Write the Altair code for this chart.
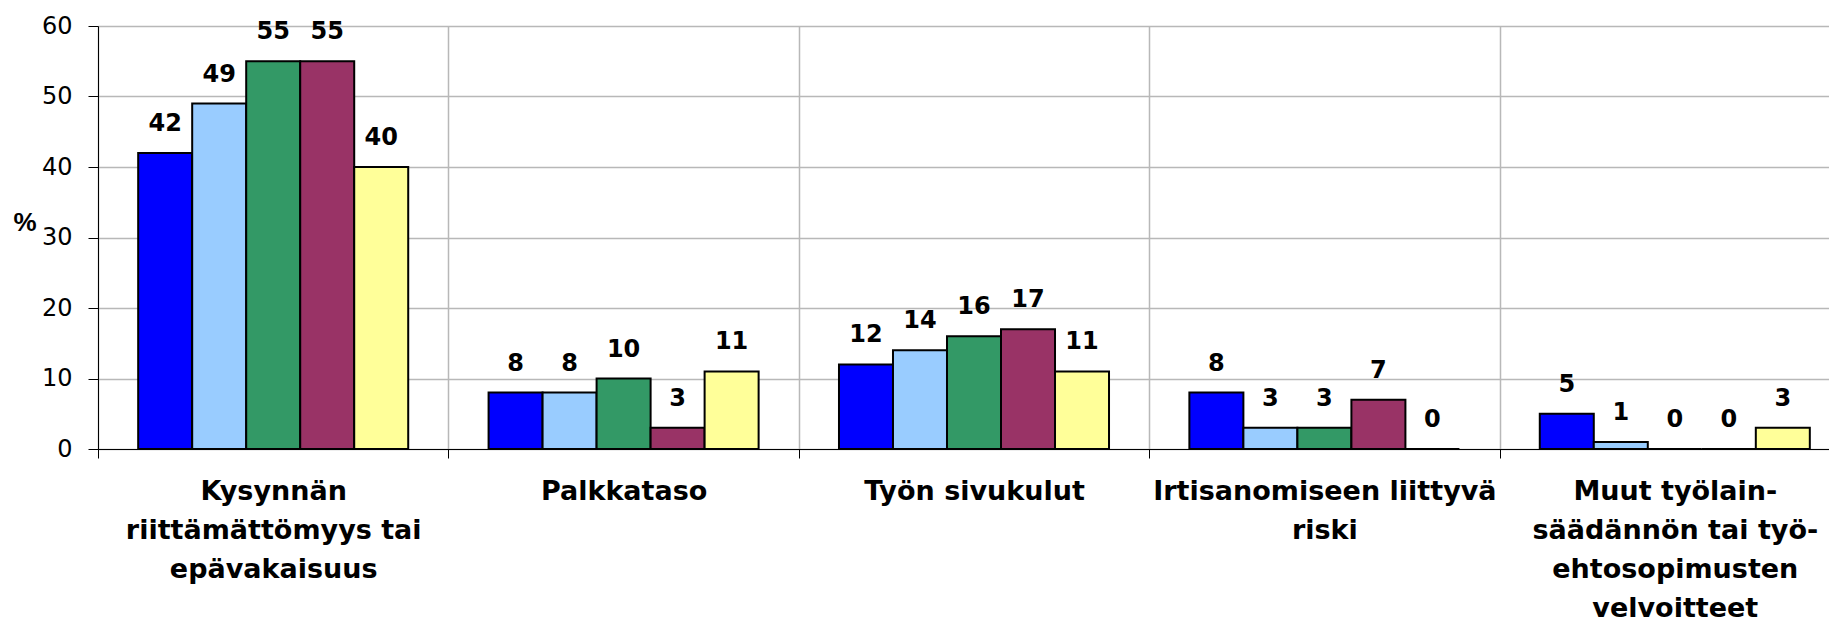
import altair as alt
import pandas as pd

categories = [
    "Kysynnän|riittämättömyys tai|epävakaisuus",
    "Palkkataso",
    "Työn sivukulut",
    "Irtisanomiseen liittyvä|riski",
    "Muut työlain-|säädännön tai työ-|ehtosopimusten|velvoitteet",
]
series = ["Sarja 1", "Sarja 2", "Sarja 3", "Sarja 4", "Sarja 5"]
colors = ["#0000FF", "#99CCFF", "#339966", "#993366", "#FFFF99"]

s1 = [42, 8, 12, 8, 5]
s2 = [49, 8, 14, 3, 1]
s3 = [55, 10, 16, 3, 0]
s4 = [55, 3, 17, 7, 0]
s5 = [40, 11, 11, 0, 3]
y_ticks = [0, 10, 20, 30, 40, 50, 60]

rows = []
for name, vals in zip(series, [s1, s2, s3, s4, s5]):
    for c, v in zip(categories, vals):
        rows.append({"category": c, "series": name, "value": v})
df = pd.DataFrame(rows)

grid_color = "#b8b8b8"

x = alt.X(
    "category:N",
    sort=categories,
    scale=alt.Scale(paddingInner=0, paddingOuter=0, range=[0, 1752]),
    axis=alt.Axis(
        title=None,
        labelAngle=0,
        labelExpr="split(datum.label, '|')",
        labelFont="DejaVu Sans",
        labelFontSize=27,
        labelFontWeight="bold",
        labelColor="black",
        labelLineHeight=39,
        labelPadding=20,
        labelLimit=500,
        labelOverlap=False,
        tickBand="extent",
        tickSize=9,
        tickColor="black",
        domainColor="black",
        grid=True,
        gridColor=grid_color,
        gridWidth=1.5,
    ),
)
x_off = alt.XOffset("series:N", sort=series, scale=alt.Scale(paddingOuter=0.744, paddingInner=0))
y = alt.Y(
    "value:Q",
    scale=alt.Scale(domain=[0, 60], nice=False),
    axis=alt.Axis(
        values=y_ticks,
        title="%",
        titleAngle=0,
        titleX=-85,
        titleY=204,
        titleAlign="left",
        titleBaseline="alphabetic",
        titleFont="Liberation Sans",
        titleFontSize=26,
        titleFontWeight="bold",
        titleColor="black",
        labelFont="DejaVu Sans",
        labelFontSize=24,
        labelColor="black",
        labelPadding=16,
        tickSize=10,
        tickColor="black",
        domainColor="black",
        gridColor=grid_color,
        gridWidth=1.5,
    ),
)
color = alt.Color("series:N", sort=series, scale=alt.Scale(domain=series, range=colors), legend=None)

base = alt.Chart(df)
bars = base.mark_bar(stroke="black", strokeWidth=2).encode(x=x, xOffset=x_off, y=y, color=color)
labels = base.mark_text(
    dy=-22, baseline="alphabetic", font="DejaVu Sans", fontSize=24, fontWeight="bold", color="black"
).encode(x=x, xOffset=x_off, y=y, text=alt.Text("value:Q", format="d"))

chart = (
    alt.layer(bars, labels)
    .properties(
        width=1731,
        height=423,
        padding={"left": 90, "top": 18, "right": 0, "bottom": 170},
        autosize=alt.AutoSizeParams(type="none"),
        background="white",
    )
    .configure_view(stroke=None)
)

chart.save("out.html", embed_options={"renderer": "svg", "actions": False})
